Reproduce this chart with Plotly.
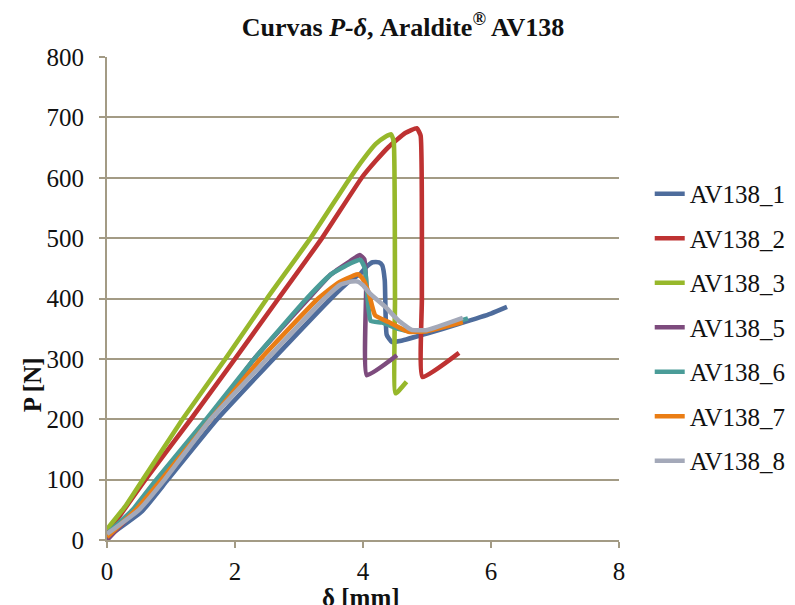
import plotly.graph_objects as go

# ---- data ----
names = ["AV138_1", "AV138_2", "AV138_3", "AV138_5", "AV138_6", "AV138_7", "AV138_8"]

x_av1 = [0, 0.55, 0.95, 1.72, 2.6, 3.5, 3.8, 3.95, 4.05, 4.15, 4.25, 4.3, 4.34, 4.37, 4.45, 4.6, 5.0, 5.5, 6.0, 6.25]
y_av1 = [5, 48, 100, 200, 300, 400, 430, 440, 452, 460, 460, 455, 430, 340, 328, 330, 342, 358, 375, 386]

x_av2 = [0, 0.6, 1.31, 2.0, 2.68, 3.36, 3.98, 4.2, 4.40, 4.66, 4.84, 4.9, 4.92, 4.93, 5.5]
y_av2 = [10, 100, 200, 300, 400, 500, 600, 628, 651, 674, 682, 670, 400, 270, 310]

x_av3 = [0, 0.3, 0.56, 1.18, 1.85, 2.5, 3.18, 3.8, 4.0, 4.2, 4.35, 4.44, 4.48, 4.5, 4.51, 4.68]
y_av3 = [18, 58, 100, 200, 300, 400, 500, 600, 630, 656, 668, 672, 660, 400, 243, 262]

x_av5 = [0, 0.4, 0.8, 1.6, 2.3, 3.15, 3.5, 3.8, 3.95, 4.02, 4.05, 4.06, 4.53]
y_av5 = [0, 45, 100, 200, 300, 400, 440, 462, 472, 465, 420, 273, 306]

x_av6 = [0, 0.4, 0.77, 1.55, 2.3, 3.12, 3.5, 3.8, 3.96, 4.03, 4.08, 4.12, 4.3, 4.55, 4.75, 5.0, 5.64]
y_av6 = [10, 50, 100, 200, 300, 400, 440, 458, 464, 450, 390, 363, 360, 350, 346, 347, 367]

x_av7 = [0, 0.45, 0.85, 1.62, 2.4, 3.3, 3.6, 3.85, 3.93, 4.0, 4.09, 4.19, 4.4, 4.71, 5.0, 5.56]
y_av7 = [5, 50, 100, 200, 300, 400, 425, 438, 440, 432, 409, 372, 361, 345, 346, 361]

x_av8 = [0, 0.5, 0.9, 1.62, 2.5, 3.4, 3.65, 3.82, 3.92, 4.0, 4.11, 4.35, 4.55, 4.76, 5.0, 5.56]
y_av8 = [10, 50, 100, 200, 300, 400, 423, 428, 428, 422, 408, 386, 364, 348, 348, 368]

xs = [x_av1, x_av2, x_av3, x_av5, x_av6, x_av7, x_av8]
ys = [y_av1, y_av2, y_av3, y_av5, y_av6, y_av7, y_av8]
colors = ["#4E6C9C", "#BE3232", "#97B82B", "#7D4B7D", "#4A9C98", "#EA7D14", "#A4A9B9"]

x_ticks = [0, 2, 4, 6, 8]
y_ticks = [0, 100, 200, 300, 400, 500, 600, 700, 800]

title_text = "<b>Curvas <i>P-δ</i>, Araldite<sup>®</sup> AV138</b>"
x_title = "<b>δ [mm]</b>"
y_title = "<b>P [N]</b>"

grid_col = "#A39B85"
font_family = "Liberation Serif"
txt_col = "#111111"

W, H = 795, 605
# page has an 8px body offset: plot area on page 107..620 x 57..540
L, T = 99, 49
PW, PH = 514, 483

fig = go.Figure()
for n, xv, yv, c in zip(names, xs, ys, colors):
    fig.add_trace(go.Scatter(
        x=xv, y=yv, mode="lines", name=n, legendgroup=n,
        line=dict(color=c, width=4.6, shape="spline", smoothing=0.4),
    ))

fig.update_layout(
    width=W, height=H,
    margin=dict(l=L, r=W - L - PW, t=T, b=H - T - PH),
    paper_bgcolor="white", plot_bgcolor="white",
    font=dict(family=font_family, color=txt_col),
    title=dict(
        text=title_text,
        xref="container", yref="container",
        x=395 / W, xanchor="center", y=1 - 19 / H, yanchor="middle",
        font=dict(family=font_family, size=26, color=txt_col),
    ),
    showlegend=True,
    legend=dict(
        x=1.06, xanchor="left", y=0.764, yanchor="top",
        font=dict(family=font_family, size=25, color=txt_col),
        tracegroupgap=9, bgcolor="rgba(0,0,0,0)",
    ),
    xaxis=dict(
        range=[0, 8], tickvals=x_ticks, showgrid=False, zeroline=False, automargin=False,
        showline=True, linecolor=grid_col, linewidth=2,
        ticks="outside", ticklen=6, tickwidth=2, tickcolor=grid_col,
        ticklabelstandoff=2,
        tickfont=dict(family=font_family, size=25, color=txt_col),
    ),
    yaxis=dict(
        range=[0, 800], tickvals=y_ticks, showgrid=True, gridcolor=grid_col, gridwidth=2,
        zeroline=False, showline=True, linecolor=grid_col, linewidth=2, automargin=False,
        ticks="outside", ticklen=6, tickwidth=2, tickcolor=grid_col,
        ticklabelstandoff=10,
        tickfont=dict(family=font_family, size=25, color=txt_col),
    ),
    annotations=[
        dict(text=x_title, xref="paper", yref="paper", x=(362 - 107) / PW, y=(540 - 597) / PH,
             xanchor="center", yanchor="middle", showarrow=False,
             font=dict(family=font_family, size=25, color=txt_col)),
        dict(text=y_title, xref="paper", yref="paper", x=(32 - 107) / PW, y=(540 - 385) / PH,
             xanchor="center", yanchor="middle", showarrow=False, textangle=-90,
             font=dict(family=font_family, size=25, color=txt_col)),
    ],
)

fig.write_html("out.html")
